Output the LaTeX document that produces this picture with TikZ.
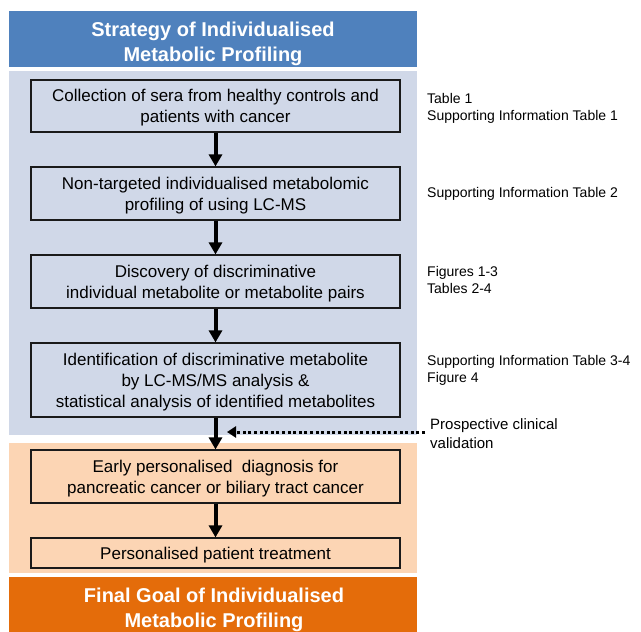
\documentclass[tikz,border=0pt]{standalone}
\usepackage{fontspec}
\setmainfont{Liberation Sans}
\usetikzlibrary{arrows.meta}
\definecolor{hdrblue}{HTML}{4F81BD}
\definecolor{panelblue}{HTML}{D0D8E8}
\definecolor{peach}{HTML}{FCD5B4}
\definecolor{goalorange}{HTML}{E46C0A}
\definecolor{boxline}{HTML}{1A1A1A}
\tikzset{
  stepbox/.style={draw=boxline, line width=1.2pt, minimum width=369pt, align=center, inner sep=0pt,
    text depth=0pt, font=\fontsize{17}{21}\selectfont},
  titletext/.style={align=center, text=white, inner sep=0pt, text depth=0pt, font=\bfseries\fontsize{20}{25}\selectfont},
  sidetext/.style={anchor=west, align=left, inner sep=0pt, text depth=0pt, font=\fontsize{14}{17}\selectfont},
  flowarr/.style={line width=4pt, -{Triangle[width=13pt,length=12pt]}},
  dotarr/.style={line width=3pt, dash pattern=on 3pt off 2.6pt, -{Triangle[width=11pt,length=9pt]}}
}
\begin{document}
\begin{tikzpicture}[x=1pt,y=-1pt]
\useasboundingbox (0,0) rectangle (641,632);
% panels
\fill[hdrblue] (9,11) rectangle (417,67);
\fill[panelblue] (9,71) rectangle (417,435);
\fill[peach] (9,443) rectangle (417,573);
\fill[goalorange] (9,577) rectangle (417,645);
\node[titletext] (hdr) at (213,42) {Strategy of Individualised\\Metabolic Profiling};
\node[titletext] (goal) at (214,607.5) {Final Goal of Individualised\\Metabolic Profiling};
% boxes
\node[stepbox, minimum height=52pt] (b1) at (215.5,106) {Collection of sera from healthy controls and\\patients with cancer};
\node[stepbox, minimum height=53pt] (b2) at (215.5,193.5) {Non-targeted individualised metabolomic\\profiling of using LC-MS};
\node[stepbox, minimum height=53pt] (b3) at (215.5,281.5) {Discovery of discriminative\\individual metabolite or metabolite pairs};
\node[stepbox, minimum height=74pt] (b4) at (215.5,380) {Identification of discriminative metabolite\\by LC-MS/MS analysis \&\\statistical analysis of identified metabolites};
\node[stepbox, minimum height=53pt] (b5) at (215.5,476.5) {Early personalised\ \ diagnosis for\\pancreatic cancer or biliary tract cancer};
\node[stepbox, minimum height=30pt] (b6) at (215.5,553) {Personalised patient treatment};
% arrows
\draw[flowarr] (b1.south) -- (b2.north);
\draw[flowarr] (b2.south) -- (b3.north);
\draw[flowarr] (b3.south) -- (b4.north);
\draw[flowarr] (b4.south) -- (b5.north);
\draw[flowarr] (b5.south) -- (b6.north);
% side texts
\node[sidetext] (s1) at (427,106.5) {Table 1\\Supporting Information Table 1};
\node[sidetext] (s2) at (427,192) {Supporting Information Table 2};
\node[sidetext] (s3) at (427,280) {Figures 1-3\\Tables 2-4};
\node[sidetext] (s4) at (427,368.5) {Supporting Information Table 3-4\\Figure 4};
\node[sidetext, font=\fontsize{15}{19}\selectfont] (val) at (430,433.5) {Prospective clinical\\validation};
\coordinate (dotS) at (425,432);
\coordinate (dotE) at (227,432);
\draw[dotarr] (dotS) -- (dotE);
\end{tikzpicture}
\end{document}
